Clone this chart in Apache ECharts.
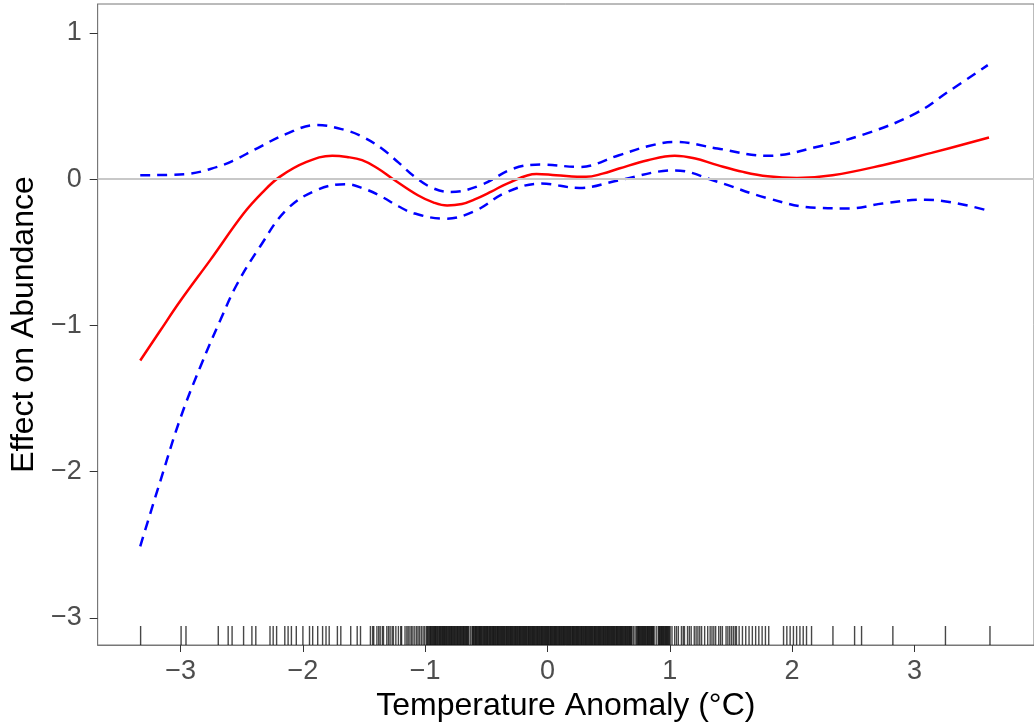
<!DOCTYPE html>
<html>
<head>
<meta charset="utf-8">
<title>Effect on Abundance</title>
<script src="https://cdn.jsdelivr.net/npm/echarts@6/dist/echarts.min.js"></script>
<style>
  html, body { margin: 0; padding: 0; background: #fff; }
  #chart { width: 1034px; height: 727px; }
</style>
</head>
<body>
<div id="chart"></div>
<script>
// fitted smooth (red) and its confidence band (blue dashed)
var fitX = [-3.33, -3.17, -3.0, -2.755, -2.485, -2.33, -2.19, -1.97, -1.76, -1.64, -1.516, -1.39, -1.27, -1.06, -0.93, -0.82, -0.70, -0.60, -0.46, -0.33, -0.09, 0.07, 0.315, 0.45, 0.585, 0.82, 1.04, 1.20, 1.39, 1.60, 1.80, 2.04, 2.33, 2.74, 3.14, 3.61];
var fitY = [-1.24, -1.04, -0.83, -0.55, -0.235, -0.09, 0.016, 0.118, 0.16, 0.152, 0.13, 0.075, 0.005, -0.11, -0.16, -0.18, -0.17, -0.14, -0.085, -0.03, 0.036, 0.027, 0.016, 0.038, 0.073, 0.13, 0.16, 0.143, 0.096, 0.05, 0.02, 0.009, 0.027, 0.096, 0.18, 0.285];

var upperX = [-3.33, -2.97, -2.70, -2.55, -2.40, -2.135, -1.89, -1.65, -1.50, -1.355, -1.22, -1.085, -0.94, -0.79, -0.547, -0.277, -0.05, 0.26, 0.585, 0.82, 1.04, 1.39, 1.80, 2.20, 2.60, 3.01, 3.28, 3.60];
var upperY = [0.027, 0.034, 0.084, 0.135, 0.20, 0.31, 0.37, 0.335, 0.285, 0.21, 0.115, 0.016, -0.06, -0.087, -0.041, 0.073, 0.10, 0.084, 0.164, 0.225, 0.255, 0.21, 0.16, 0.22, 0.31, 0.45, 0.60, 0.78];

var lowerX = [-3.33, -3.168, -3.0, -2.835, -2.673, -2.54, -2.35, -2.135, -1.89, -1.65, -1.50, -1.355, -1.22, -1.085, -0.84, -0.60, -0.33, -0.05, 0.26, 0.585, 1.04, 1.39, 1.80, 2.20, 2.47, 2.74, 3.09, 3.61];
var lowerY = [-2.51, -2.07, -1.63, -1.275, -0.96, -0.72, -0.46, -0.21, -0.075, -0.034, -0.065, -0.12, -0.185, -0.235, -0.27, -0.22, -0.087, -0.03, -0.06, -0.007, 0.06, -0.018, -0.13, -0.196, -0.20, -0.166, -0.14, -0.217];

// observed temperature anomalies (rug)
var rugX = [
  -3.327, -2.996, -2.956, -2.692, -2.611, -2.579, -2.485, -2.417, -2.385,
  -2.269, -2.243, -2.215, -2.148, -2.121, -2.094, -2.054, -2.000, -1.946, -1.920,
  -1.879, -1.839, -1.811, -1.785, -1.718, -1.690, -1.609, -1.556, -1.529, -1.448,
  -1.43, -1.421, -1.395, -1.38, -1.368, -1.35, -1.341, -1.314, -1.30, -1.287,
  -1.27, -1.260, -1.24, -1.219, -1.2, -1.193, -1.165, -1.15, -1.139, -1.125,
  -1.112, -1.1, -1.085, -1.07, -1.058, -1.045, -1.031, -1.017, -1.004,
  -0.99, -0.983, -0.976, -0.969, -0.962, -0.956, -0.951, -0.944, -0.938, -0.931,
  -0.925, -0.919, -0.914, -0.907, -0.9, -0.894, -0.887, -0.881, -0.876, -0.869,
  -0.863, -0.857, -0.851, -0.845, -0.84, -0.833, -0.827, -0.821, -0.815, -0.808,
  -0.802, -0.796, -0.79, -0.784, -0.779, -0.772, -0.766, -0.76, -0.754, -0.747,
  -0.741, -0.735, -0.73, -0.723, -0.717, -0.711, -0.705, -0.698, -0.692, -0.686,
  -0.681, -0.674, -0.668, -0.662, -0.656, -0.65, -0.644, -0.631,
  -0.618, -0.612, -0.606, -0.6, -0.593, -0.588, -0.582, -0.576, -0.57, -0.563,
  -0.557, -0.552, -0.546, -0.54, -0.534, -0.527, -0.521, -0.515, -0.509, -0.503,
  -0.497, -0.491, -0.486, -0.479, -0.473, -0.467, -0.461, -0.455, -0.448, -0.443,
  -0.437, -0.431, -0.425, -0.419, -0.412, -0.407, -0.401, -0.395, -0.389, -0.383,
  -0.376, -0.371, -0.365, -0.359, -0.353, -0.347, -0.34, -0.335, -0.329, -0.323,
  -0.317, -0.311, -0.304, -0.299, -0.293, -0.287, -0.281, -0.275, -0.268, -0.263,
  -0.257, -0.251, -0.245, -0.239, -0.232, -0.227, -0.221, -0.215, -0.209, -0.203,
  -0.196, -0.191, -0.185, -0.179, -0.173, -0.167, -0.16, -0.155, -0.149, -0.143,
  -0.137, -0.131, -0.124, -0.119, -0.113, -0.107, -0.101, -0.095, -0.088, -0.083,
  -0.077, -0.071, -0.065, -0.059, -0.052, -0.047, -0.041, -0.035, -0.029, -0.023,
  -0.016, -0.011, -0.005, 0.001, 0.007, 0.013, 0.02, 0.025, 0.031, 0.037,
  0.043, 0.049, 0.056, 0.061, 0.067, 0.073, 0.079, 0.085, 0.092, 0.097,
  0.103, 0.109, 0.115, 0.121, 0.128, 0.133, 0.139, 0.145, 0.151, 0.157,
  0.164, 0.169, 0.175, 0.181, 0.187, 0.193, 0.2, 0.205, 0.211, 0.217,
  0.223, 0.229, 0.236, 0.241, 0.247, 0.253, 0.259, 0.265, 0.272, 0.277,
  0.283, 0.289, 0.295, 0.301, 0.308, 0.313, 0.319, 0.325, 0.331, 0.337,
  0.344, 0.349, 0.355, 0.361, 0.367, 0.373, 0.38, 0.385, 0.391, 0.397,
  0.403, 0.409, 0.416, 0.421, 0.427, 0.433, 0.439, 0.445, 0.452, 0.457,
  0.463, 0.469, 0.475, 0.481, 0.488, 0.493, 0.499, 0.505, 0.511, 0.517,
  0.524, 0.529, 0.535, 0.541, 0.547, 0.553, 0.56, 0.565, 0.571, 0.577,
  0.583, 0.589, 0.596, 0.601, 0.607, 0.613, 0.619, 0.625, 0.632, 0.637,
  0.643, 0.649, 0.655, 0.661, 0.668, 0.673, 0.679, 0.685, 0.691, 0.703, 0.716,
  0.728, 0.734, 0.741, 0.746, 0.752, 0.758, 0.764, 0.77, 0.777, 0.782,
  0.788, 0.794, 0.8, 0.806, 0.813, 0.818, 0.824, 0.83, 0.836, 0.842,
  0.849, 0.854, 0.86, 0.866, 0.872, 0.889,
  0.905, 0.911, 0.917, 0.923, 0.93, 0.935, 0.941, 0.947, 0.953, 0.959,
  0.966, 0.971, 0.977, 0.983, 0.989, 0.996, 1.003, 1.018,
  1.04, 1.055, 1.07, 1.095, 1.11, 1.12, 1.145, 1.16, 1.175, 1.2, 1.215, 1.23,
  1.245, 1.26, 1.285, 1.31, 1.33, 1.345, 1.36, 1.375, 1.4, 1.415, 1.43, 1.46,
  1.475, 1.49, 1.505, 1.52, 1.535, 1.545,
  1.567, 1.594, 1.621, 1.648, 1.675, 1.702, 1.728, 1.755, 1.782, 1.809,
  1.930, 1.957, 1.984, 2.011, 2.037, 2.064, 2.091, 2.118, 2.159,
  2.334, 2.511, 2.568, 2.824, 3.254, 3.618
];

var xTicks = [-3, -2, -1, 0, 1, 2, 3];
var yTicks = [-3, -2, -1, 0, 1];

var X_MIN = -3.678, X_MAX = 3.978;
var Y_MIN = -3.185, Y_MAX = 1.198;

function pairs(xs, ys) { return xs.map(function (x, i) { return [x, ys[i]]; }); }
function minusLabel(v) { return v < 0 ? '\u2212' + Math.abs(v) : String(v); }

var FONT = '"Liberation Sans", Arial, Helvetica, sans-serif';

var chart = echarts.init(document.getElementById('chart'), null, { renderer: 'canvas' });
chart.setOption({
  backgroundColor: '#ffffff',
  animation: false,
  grid: { left: 96, right: -10, top: 4, bottom: 82, show: true, borderColor: '#777', borderWidth: 1 },
  xAxis: {
    type: 'value', min: X_MIN, max: X_MAX,
    name: 'Temperature Anomaly (\u00B0C)', nameLocation: 'middle', nameGap: 44,
    nameTextStyle: { color: '#000', fontSize: 32, fontFamily: FONT },
    axisLine: { show: true, onZero: false, lineStyle: { color: '#777', width: 1 } },
    axisTick: { show: true, length: 7, customValues: xTicks, lineStyle: { color: '#333', width: 1 } },
    axisLabel: { customValues: xTicks, formatter: minusLabel, color: '#4d4d4d', fontSize: 27, fontFamily: FONT, margin: 13 },
    splitLine: { show: false }
  },
  yAxis: {
    type: 'value', min: Y_MIN, max: Y_MAX,
    name: 'Effect on Abundance', nameLocation: 'middle', nameGap: 54,
    nameTextStyle: { color: '#000', fontSize: 32, fontFamily: FONT },
    axisLine: { show: true, onZero: false, lineStyle: { color: '#777', width: 1 } },
    axisTick: { show: true, length: 8, customValues: yTicks, lineStyle: { color: '#333', width: 1 } },
    axisLabel: { customValues: yTicks, formatter: minusLabel, color: '#4d4d4d', fontSize: 27, fontFamily: FONT, margin: 16 },
    splitLine: { show: false }
  },
  series: [
    {
      type: 'custom',
      z: 1,
      silent: true,
      data: rugX.map(function (x) { return [x, Y_MIN]; }),
      encode: { x: 0, y: 1 },
      renderItem: function (params, api) {
        var p = api.coord([api.value(0), Y_MIN]);
        return {
          type: 'line',
          shape: { x1: p[0], y1: p[1], x2: p[0], y2: p[1] - 19 },
          style: { stroke: 'rgba(0,0,0,0.72)', lineWidth: 1.4 }
        };
      },
      markLine: {
        silent: true, symbol: 'none', label: { show: false },
        lineStyle: { color: '#c8c8c8', width: 2, type: 'solid' },
        data: [{ yAxis: 0 }]
      }
    },
    {
      type: 'line', z: 2, smooth: 0.4, showSymbol: false, silent: true,
      data: pairs(upperX, upperY),
      lineStyle: { color: '#0000ff', width: 2.5, type: [10, 7] }
    },
    {
      type: 'line', z: 2, smooth: 0.4, showSymbol: false, silent: true,
      data: pairs(lowerX, lowerY),
      lineStyle: { color: '#0000ff', width: 2.5, type: [10, 7] }
    },
    {
      type: 'line', z: 3, smooth: 0.4, showSymbol: false, silent: true,
      data: pairs(fitX, fitY),
      lineStyle: { color: '#ff0000', width: 2.5 }
    }
  ]
});
</script>
</body>
</html>
